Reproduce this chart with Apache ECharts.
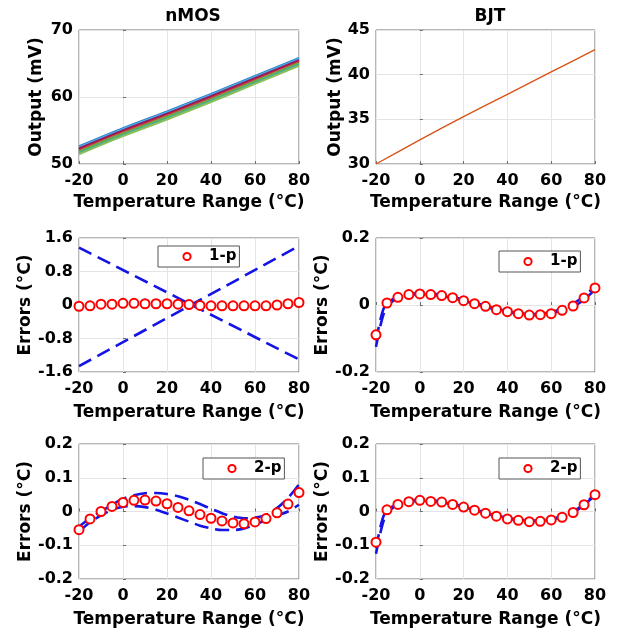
<!DOCTYPE html>
<html>
<head>
<meta charset="utf-8">
<script src="https://cdn.jsdelivr.net/npm/echarts@6/dist/echarts.min.js"></script>
<style>
  html, body { margin: 0; padding: 0; background: #fff; }
  #chart { width: 624px; height: 637px; }
</style>
</head>
<body>
<div id="chart"></div>
<script>
// temperatures of the measured points
const temps = [-20, -15, -10, -5, 0, 5, 10, 15, 20, 25, 30, 35, 40, 45, 50, 55, 60, 65, 70, 75, 80];

// nMOS output curves (mV), one per sample, sampled every 20 degC
const outT = [-20, 0, 20, 40, 60, 80];
const nmosOut1 = [52.65, 55.35, 57.85, 60.45, 63.15, 65.85];
const nmosOut2 = [52.50, 55.20, 57.70, 60.30, 63.00, 65.70];
const nmosOut3 = [52.35, 55.05, 57.55, 60.15, 62.85, 65.55];
const nmosOut4 = [52.20, 54.90, 57.40, 60.00, 62.70, 65.40];
const nmosOut5 = [52.05, 54.75, 57.25, 59.85, 62.55, 65.25];
const nmosOut6 = [51.85, 54.55, 57.05, 59.65, 62.35, 65.05];
const nmosOut7 = [51.65, 54.35, 56.85, 59.45, 62.15, 64.85];
const nmosOut8 = [51.45, 54.15, 56.65, 59.25, 61.95, 64.65];
const nmosColors = ['#2f7fc4', '#4DBEEE', '#7E2F8E', '#A2142F', '#c23b5a', '#77AC30', '#3fae9a', '#8cbf5a'];

// BJT output (mV)
const bjtOut = [30.0, 32.7, 35.3, 37.8, 40.3, 42.8];

// nMOS, 1-point calibration
const nmos1pErr = [-0.03, -0.02, 0.02, 0.02, 0.04, 0.04, 0.03, 0.03, 0.03, 0.02, 0.01, -0.01, -0.02, -0.02, -0.02, -0.02, -0.02, -0.02, 0.0, 0.03, 0.06];
const boundT = [-20, 80];
const nmos1pUpper = [1.37, -1.30];
const nmos1pLower = [-1.46, 1.41];

// BJT, 1-point calibration
const bjt1pErr = [-0.089, 0.006, 0.023, 0.031, 0.033, 0.031, 0.028, 0.022, 0.013, 0.004, -0.004, -0.014, -0.020, -0.026, -0.030, -0.029, -0.026, -0.016, -0.003, 0.021, 0.051];
const fitT = [-20, -19, -18, -17, -16, -15, -12, -10, -5, 0, 5, 10, 15, 20, 25, 30, 35, 40, 45, 50, 55, 60, 65, 70, 75, 80];
const bjt1pFitA = [-0.125, -0.092, -0.062, -0.037, -0.016, -0.002, 0.013, 0.020, 0.029, 0.033, 0.031, 0.027, 0.021, 0.013, 0.004, -0.005, -0.014, -0.021, -0.027, -0.030, -0.029, -0.025, -0.016, -0.005, 0.016, 0.046];
const bjt1pFitB = [-0.106, -0.074, -0.044, -0.020, -0.003, 0.008, 0.018, 0.024, 0.032, 0.036, 0.034, 0.030, 0.024, 0.016, 0.007, -0.002, -0.011, -0.018, -0.024, -0.027, -0.026, -0.021, -0.010, 0.004, 0.026, 0.056];

// nMOS, 2-point calibration
const nmos2pErr = [-0.054, -0.022, 0.0, 0.015, 0.027, 0.033, 0.034, 0.031, 0.023, 0.012, 0.002, -0.009, -0.020, -0.028, -0.034, -0.036, -0.031, -0.021, -0.004, 0.022, 0.056];
const nmos2pUpper = [-0.045, -0.020, 0.0, 0.020, 0.038, 0.048, 0.054, 0.055, 0.052, 0.045, 0.035, 0.022, 0.008, -0.005, -0.015, -0.020, -0.018, -0.010, 0.010, 0.040, 0.080];
const nmos2pLower = [-0.060, -0.032, -0.012, 0.005, 0.014, 0.016, 0.013, 0.005, -0.006, -0.018, -0.030, -0.042, -0.050, -0.055, -0.055, -0.050, -0.038, -0.026, -0.012, 0.0, 0.020];

// BJT, 2-point calibration
const bjt2pErr = [-0.091, 0.005, 0.021, 0.029, 0.033, 0.030, 0.028, 0.021, 0.013, 0.004, -0.005, -0.014, -0.022, -0.026, -0.030, -0.029, -0.025, -0.017, -0.003, 0.020, 0.050];
const bjt2pFitA = [-0.125, -0.093, -0.063, -0.038, -0.017, -0.003, 0.012, 0.019, 0.028, 0.032, 0.030, 0.027, 0.021, 0.013, 0.004, -0.005, -0.014, -0.021, -0.026, -0.029, -0.028, -0.024, -0.016, -0.003, 0.019, 0.049];
const bjt2pFitB = [-0.108, -0.076, -0.046, -0.022, -0.005, 0.006, 0.016, 0.022, 0.031, 0.035, 0.033, 0.029, 0.023, 0.015, 0.006, -0.003, -0.012, -0.019, -0.024, -0.027, -0.026, -0.022, -0.013, 0.000, 0.022, 0.052];

const FONT = 'DejaVu Sans';
const pair = (xs, ys) => xs.map((x, i) => [x, ys[i]]);

const grids = [
  { left: 79, top: 30, width: 220, height: 134 },
  { left: 376, top: 30, width: 219, height: 134 },
  { left: 79, top: 238, width: 220, height: 134 },
  { left: 376, top: 238, width: 219, height: 134 },
  { left: 79, top: 444, width: 220, height: 135 },
  { left: 376, top: 444, width: 219, height: 135 }
].map(g => Object.assign(g, { show: true, borderColor: '#6e6e6e', borderWidth: 1, backgroundColor: '#fff' }));

const xAxes = grids.map((g, i) => ({
  type: 'value', gridIndex: i, min: -20, max: 80, interval: 20,
  name: 'Temperature Range (°C)', nameLocation: 'middle', nameGap: i < 2 ? 30 : 32,
  nameTextStyle: { fontFamily: FONT, fontSize: 17, fontWeight: 'bold', color: '#000' },
  axisLine: { show: false },
  axisTick: { inside: true, length: 3, lineStyle: { color: '#6e6e6e' } },
  axisLabel: { fontFamily: FONT, fontSize: 16, fontWeight: 'bold', color: '#000', margin: 9 },
  splitLine: { show: true, lineStyle: { color: '#e4e4e4' } }
}));

const yRanges = [
  { min: 50, max: 70, interval: 10, name: 'Output (mV)', gap: 34 },
  { min: 30, max: 45, interval: 5, name: 'Output (mV)', gap: 32 },
  { min: -1.6, max: 1.6, interval: 0.8, name: 'Errors (°C)', gap: 43 },
  { min: -0.2, max: 0.2, interval: 0.2, name: 'Errors (°C)', gap: 44 },
  { min: -0.2, max: 0.2, interval: 0.1, name: 'Errors (°C)', gap: 44 },
  { min: -0.2, max: 0.2, interval: 0.1, name: 'Errors (°C)', gap: 44 }
];

const yAxes = yRanges.map((r, i) => ({
  type: 'value', gridIndex: i, min: r.min, max: r.max, interval: r.interval,
  name: r.name, nameLocation: 'middle', nameGap: r.gap,
  nameTextStyle: { fontFamily: FONT, fontSize: 17, fontWeight: 'bold', color: '#000' },
  axisLine: { show: false },
  axisTick: { inside: true, length: 3, lineStyle: { color: '#6e6e6e' } },
  axisLabel: { fontFamily: FONT, fontSize: 16, fontWeight: 'bold', color: '#000', margin: 6 },
  splitLine: { show: true, lineStyle: { color: '#e4e4e4' } }
}));

const dashed = (idx, xs, ys) => ({
  type: 'line', xAxisIndex: idx, yAxisIndex: idx, data: pair(xs, ys),
  smooth: 0.3, symbol: 'none', silent: true, z: 2,
  lineStyle: { color: '#1414e6', width: 2.6, type: [14, 7] }
});

const circles = (idx, name, ys) => ({
  type: 'line', name: name, xAxisIndex: idx, yAxisIndex: idx, data: pair(temps, ys),
  symbol: 'emptyCircle', symbolSize: 9, z: 3,
  lineStyle: { width: 0, opacity: 0 },
  itemStyle: { color: '#ff0000', borderColor: '#ff0000', borderWidth: 2.2 }
});

const series = [];
[nmosOut1, nmosOut2, nmosOut3, nmosOut4, nmosOut5, nmosOut6, nmosOut7, nmosOut8].forEach((ys, k) => {
  series.push({
    type: 'line', xAxisIndex: 0, yAxisIndex: 0, data: pair(outT, ys),
    smooth: 0.3, symbol: 'none', silent: true,
    lineStyle: { color: nmosColors[k], width: 2 }
  });
});
series.push({
  type: 'line', xAxisIndex: 1, yAxisIndex: 1, data: pair(outT, bjtOut),
  smooth: 0.3, symbol: 'none', silent: true,
  lineStyle: { color: '#D95319', width: 1.4 }
});
series.push(dashed(2, boundT, nmos1pUpper), dashed(2, boundT, nmos1pLower), circles(2, '1-p', nmos1pErr));
series.push(dashed(3, fitT, bjt1pFitA), dashed(3, fitT, bjt1pFitB), circles(3, '1-p', bjt1pErr));
series.push(dashed(4, temps, nmos2pUpper), dashed(4, temps, nmos2pLower), circles(4, '2-p', nmos2pErr));
series.push(dashed(5, fitT, bjt2pFitA), dashed(5, fitT, bjt2pFitB), circles(5, '2-p', bjt2pErr));

const legendAt = (name, left, top) => ({
  data: [name], left: left, top: top, orient: 'horizontal',
  backgroundColor: '#fff', borderColor: '#555', borderWidth: 1, borderRadius: 0,
  padding: [3, 3, 3, 22], itemWidth: 14, itemHeight: 9, selectedMode: false,
  textStyle: { fontFamily: FONT, fontSize: 15, fontWeight: 'bold', color: '#000', padding: [0, 0, 0, 10] }
});

const chart = echarts.init(document.getElementById('chart'), null, { renderer: 'canvas' });
chart.setOption({
  backgroundColor: '#fff',
  animation: false,
  title: [
    { text: 'nMOS', left: 188, top: 3, textAlign: 'center',
      textStyle: { fontFamily: FONT, fontSize: 17, fontWeight: 'bold', color: '#000' } },
    { text: 'BJT', left: 485, top: 3, textAlign: 'center',
      textStyle: { fontFamily: FONT, fontSize: 17, fontWeight: 'bold', color: '#000' } }
  ],
  legend: [
    legendAt('1-p', 158, 246),
    legendAt('1-p', 499, 251),
    legendAt('2-p', 203, 458),
    legendAt('2-p', 499, 458)
  ],
  grid: grids,
  xAxis: xAxes,
  yAxis: yAxes,
  series: series
});
</script>
</body>
</html>
